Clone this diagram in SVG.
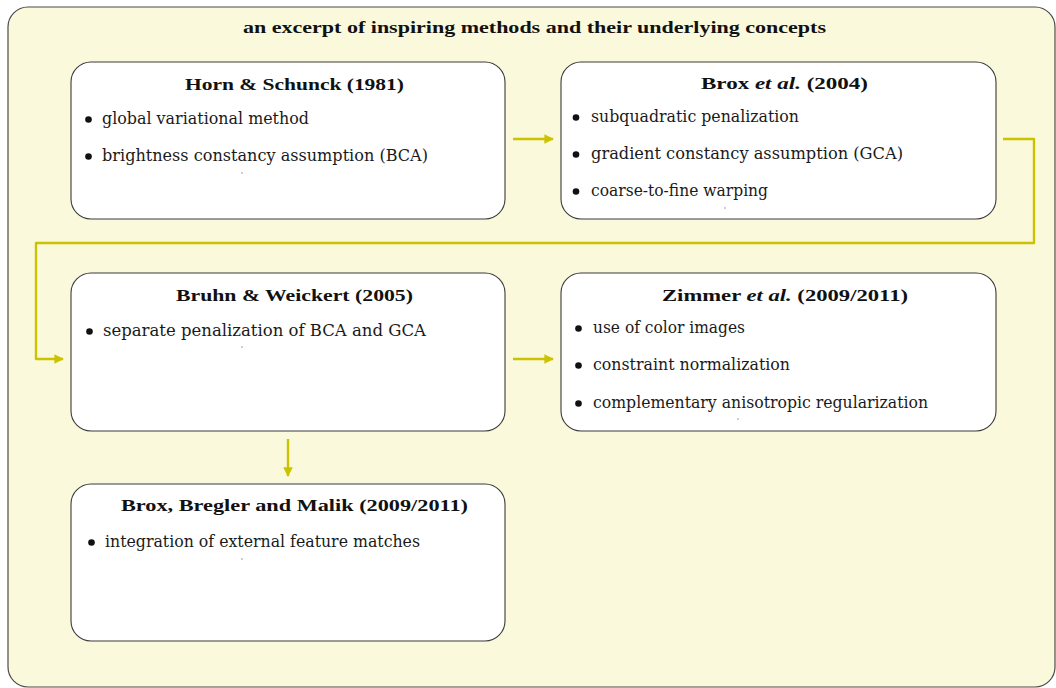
<svg xmlns="http://www.w3.org/2000/svg" width="1056" height="688" viewBox="0 0 1056 688">
  <defs>
    <marker id="ah" viewBox="0 0 10 10" refX="9" refY="5" markerWidth="4.4" markerHeight="4" orient="auto" markerUnits="strokeWidth">
      <path d="M0,0 L10,5 L0,10 z" fill="#cbc300"/>
    </marker>
  </defs>
  <style>
    .frame { fill: #fbf9dc; stroke: #4a4a4a; stroke-width: 1.2; }
    .box { fill: #ffffff; stroke: #3a3a3a; stroke-width: 1.1; }
    .ttl { font-family: "Liberation Serif", "DejaVu Serif", serif; font-weight: bold; font-size: 17px; fill: #111; }
    .txt { font-family: "DejaVu Serif", serif; font-size: 16px; fill: #1a1a1a; }
    .dot { fill: #111; }
    .speck { fill: #777; }
    .flow { fill: none; stroke: #cbc300; stroke-width: 2.4; stroke-linejoin: round; marker-end: url(#ah); }
  </style>

  <!-- background frame -->
  <g id="frame">
    <rect class="frame" x="8" y="7" width="1047" height="680" rx="20" ry="20"/>
    <text class="ttl" x="243" y="33" textLength="583" lengthAdjust="spacingAndGlyphs">an excerpt of inspiring methods and their underlying concepts</text>
  </g>

  <!-- connectors -->
  <g id="connectors">
    <path class="flow" d="M513,139 L553,139"/>
    <path class="flow" d="M1003,139 L1034,139 L1034,243 L36,243 L36,359 L63,359"/>
    <path class="flow" d="M513,359 L553,359"/>
    <path class="flow" d="M288,439 L288,476"/>
  </g>

  <g id="horn-schunck">
    <rect class="box" x="71" y="62" width="434" height="157" rx="20" ry="20"/>
    <text class="ttl" x="185" y="90" textLength="219" lengthAdjust="spacingAndGlyphs">Horn &amp; Schunck (1981)</text>
    <circle class="dot" cx="88.5" cy="119.5" r="3.3"/>
    <text class="txt" x="102" y="124" textLength="207" lengthAdjust="spacingAndGlyphs">global variational method</text>
    <circle class="dot" cx="88.5" cy="156.5" r="3.3"/>
    <text class="txt" x="102" y="161" textLength="326" lengthAdjust="spacingAndGlyphs">brightness constancy assumption (BCA)</text>
    <circle class="speck" cx="242" cy="173" r="0.7"/>
  </g>

  <g id="brox-2004">
    <rect class="box" x="561" y="62" width="435" height="157" rx="20" ry="20"/>
    <text class="ttl" x="701" y="89" textLength="167" lengthAdjust="spacingAndGlyphs">Brox <tspan font-style="italic">et al.</tspan> (2004)</text>
    <circle class="dot" cx="576" cy="117.5" r="3.3"/>
    <text class="txt" x="591" y="122" textLength="208" lengthAdjust="spacingAndGlyphs">subquadratic penalization</text>
    <circle class="dot" cx="576" cy="154.5" r="3.3"/>
    <text class="txt" x="591" y="159" textLength="312" lengthAdjust="spacingAndGlyphs">gradient constancy assumption (GCA)</text>
    <circle class="dot" cx="576" cy="191.5" r="3.3"/>
    <text class="txt" x="591" y="196" textLength="177" lengthAdjust="spacingAndGlyphs">coarse-to-fine warping</text>
    <circle class="speck" cx="725" cy="208" r="0.7"/>
  </g>

  <g id="bruhn-weickert">
    <rect class="box" x="71" y="273" width="434" height="158" rx="20" ry="20"/>
    <text class="ttl" x="176" y="301" textLength="237" lengthAdjust="spacingAndGlyphs">Bruhn &amp; Weickert (2005)</text>
    <circle class="dot" cx="89.5" cy="331.5" r="3.3"/>
    <text class="txt" x="103" y="336" textLength="323" lengthAdjust="spacingAndGlyphs">separate penalization of BCA and GCA</text>
    <circle class="speck" cx="242" cy="347" r="0.7"/>
  </g>

  <g id="zimmer">
    <rect class="box" x="561" y="273" width="435" height="158" rx="20" ry="20"/>
    <text class="ttl" x="662" y="301" textLength="246" lengthAdjust="spacingAndGlyphs">Zimmer <tspan font-style="italic">et al.</tspan> (2009/2011)</text>
    <circle class="dot" cx="578.5" cy="328.5" r="3.3"/>
    <text class="txt" x="593" y="333" textLength="152" lengthAdjust="spacingAndGlyphs">use of color images</text>
    <circle class="dot" cx="578.5" cy="365.5" r="3.3"/>
    <text class="txt" x="593" y="370" textLength="197" lengthAdjust="spacingAndGlyphs">constraint normalization</text>
    <circle class="dot" cx="578.5" cy="403.5" r="3.3"/>
    <text class="txt" x="593" y="408" textLength="335" lengthAdjust="spacingAndGlyphs">complementary anisotropic regularization</text>
    <circle class="speck" cx="738" cy="419" r="0.7"/>
  </g>

  <g id="brox-bregler-malik">
    <rect class="box" x="71" y="484" width="434" height="157" rx="20" ry="20"/>
    <text class="ttl" x="121" y="511" textLength="347" lengthAdjust="spacingAndGlyphs">Brox, Bregler and Malik (2009/2011)</text>
    <circle class="dot" cx="91.5" cy="542.5" r="3.3"/>
    <text class="txt" x="105" y="547" textLength="315" lengthAdjust="spacingAndGlyphs">integration of external feature matches</text>
    <circle class="speck" cx="242" cy="559" r="0.7"/>
  </g>
</svg>
